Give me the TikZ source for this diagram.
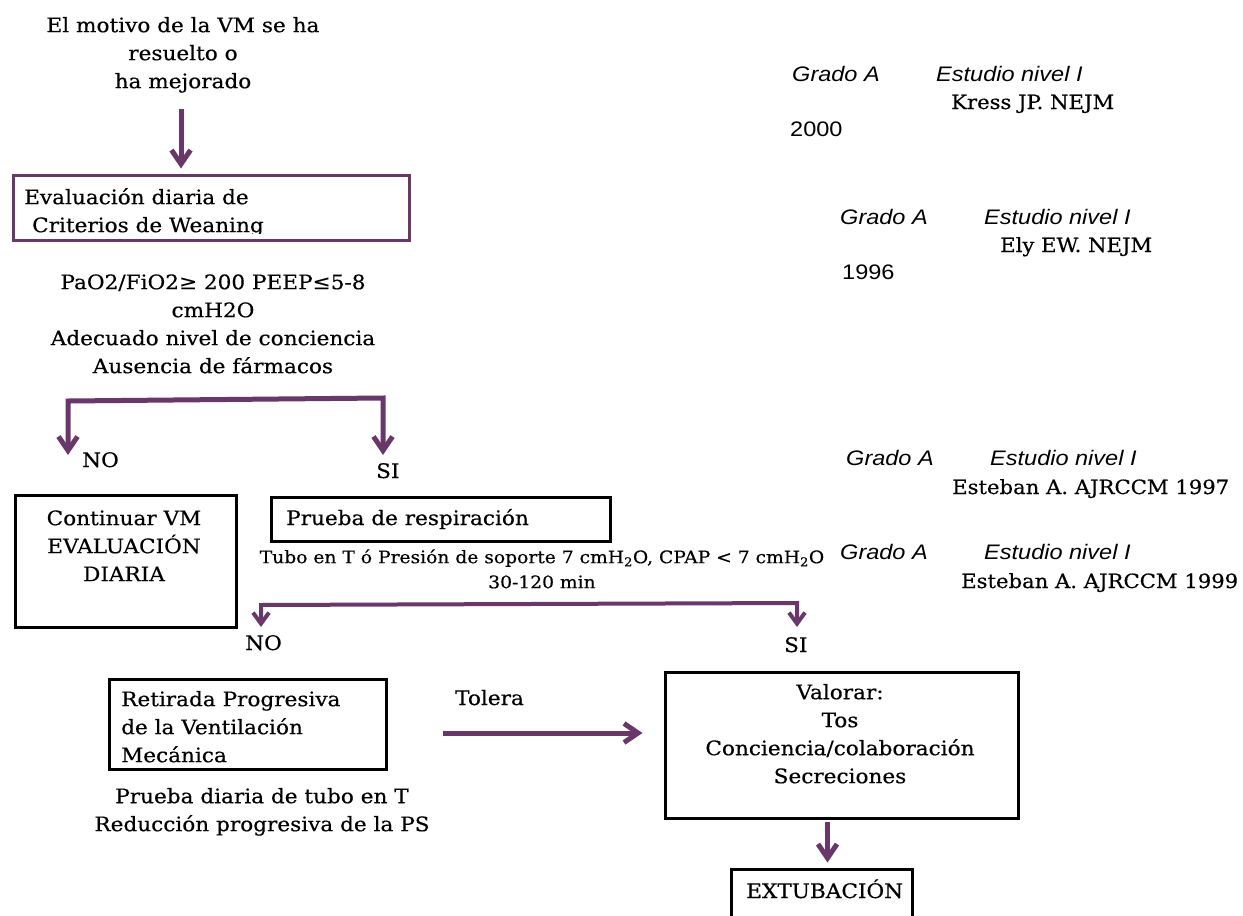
\documentclass[tikz,border=0pt]{standalone}
\usepackage{fontspec}
\setmainfont[FakeStretch=1.08,FakeBold=0.4]{DejaVu Serif}
\newfontfamily\refsans[FakeStretch=1.12]{Liberation Sans}
\usetikzlibrary{arrows.meta}
\definecolor{vm}{RGB}{105,55,105}
\newcommand{\mainsize}{\fontsize{20}{28}\selectfont}
\newcommand{\refserifsize}{\fontsize{19.6}{28}\selectfont}
\newcommand{\smallsize}{\fontsize{17.3}{25}\selectfont}
\newcommand{\refsize}{\fontsize{21}{26}\selectfont}
\newcommand{\firststrut}{\rule{0pt}{19pt}}
\newcommand{\smallstrut}{\rule{0pt}{17pt}}
\tikzset{
  txt/.style={inner sep=0pt, font=\mainsize},
  ctxt/.style={txt, align=center, anchor=north},
  ltxt/.style={txt, align=left, anchor=north west},
  btxt/.style={txt, anchor=base west},
  bx/.style={draw=black, line width=3pt, inner sep=0pt, anchor=north west},
  pbx/.style={bx, draw=vm},
  arr/.style={draw=vm, line width=5pt, -{Straight Barb[length=14pt,width=19pt]}},
  dblarr/.style={draw=vm, line width=5pt, {Straight Barb[length=14pt,width=19pt]}-{Straight Barb[length=14pt,width=19pt]}},
  sdblarr/.style={draw=vm, line width=4pt, {Straight Barb[length=11pt,width=16pt]}-{Straight Barb[length=11pt,width=16pt]}},
  refi/.style={inner sep=0pt, anchor=base west, font=\refsans\itshape\refsize},
  refn/.style={inner sep=0pt, anchor=base west, font=\refsans\refsize},
  refs/.style={inner sep=0pt, anchor=base west, font=\refserifsize},
}
\begin{document}
\begin{tikzpicture}[x=1pt,y=-1pt]
\clip (0,0) rectangle (1243,916);
\fill[white] (0,0) rectangle (1243,916);

% ---- top part
\node[ctxt] (motivo) at (183,13) {\firststrut El motivo de la VM se ha\\resuelto o\\ha mejorado};
\node[pbx, minimum width=396pt, minimum height=65pt] (eval) at (11.5,173.5) {};
\begin{scope}
  \clip (10,172) rectangle (409,233);
  \node[ltxt] (evaltxt) at (24,185) {\firststrut Evaluación diaria de\\\hspace{8pt}Criterios de Weaning};
\end{scope}
\coordinate (a1x) at (181,0);
\draw[arr, shorten <=16pt, shorten >=5pt] (a1x |- motivo.south) -- (a1x |- eval.north);

\node[ctxt] (crit) at (213,270) {\firststrut PaO2/FiO2≥ 200 PEEP≤5-8\\cmH2O\\Adecuado nivel de conciencia\\Ausencia de fármacos};

% ---- branch 1
\coordinate (b1L) at (68,401);
\coordinate (b1R) at (383,398);
\coordinate (t1L) at (68,455);
\coordinate (t1R) at (383,455);
\draw[dblarr] (t1R) -- (b1R) -- (b1L) -- (t1L);
\node[btxt] (no1) at (82,467) {NO};
\node[btxt] (si1) at (376,478) {SI};

% ---- middle boxes
\node[bx, minimum width=221pt, minimum height=132pt] (cont) at (13.5,493.5) {};
\node[ctxt] (conttxt) at (124,506) {\firststrut Continuar VM\\EVALUACIÓN\\DIARIA};
\node[bx, minimum width=339pt, minimum height=44pt] (prueba) at (269.5,495.5) {};
\node[btxt] (pruebatxt) at (286,525) {Prueba de respiración};
\node[ctxt, font=\smallsize] (tubo) at (542,546) {\smallstrut Tubo en T ó Presión de soporte 7 cmH\textsubscript{2}O, CPAP < 7 cmH\textsubscript{2}O\\30-120 min};

% ---- branch 2
\coordinate (b2L) at (261,605);
\coordinate (b2R) at (797,603);
\coordinate (t2L) at (261,627);
\coordinate (t2R) at (797,627);
\draw[sdblarr] (t2R) -- (b2R) -- (b2L) -- (t2L);
\node[btxt] (no2) at (245,650) {NO};
\node[btxt] (si2) at (784,652) {SI};

% ---- lower boxes
\node[bx, minimum width=277pt, minimum height=90pt] (retirada) at (107.5,677.5) {};
\node[ltxt] (retiradatxt) at (121,687) {\firststrut Retirada Progresiva\\de la Ventilación\\Mecánica};
\node[ctxt] (diaria) at (262,784) {\firststrut Prueba diaria de tubo en T\\Reducción progresiva de la PS};
\node[btxt] (tolera) at (455,705) {Tolera};

\node[bx, minimum width=353pt, minimum height=146pt] (valorar) at (663.5,670.5) {};
\node[ctxt] (valorartxt) at (840,680) {\firststrut Valorar:\\Tos\\Conciencia/colaboración\\Secreciones};
\coordinate (tol) at (0,733);
\draw[arr] ([xshift=55pt]retirada.east |- tol) -- ([xshift=-21pt]valorar.west |- tol);

\node[bx, minimum width=181pt, minimum height=70pt] (extub) at (729.5,867.5) {};
\node[btxt] (extubtxt) at (746,898) {EXTUBACIÓN};
\draw[arr] ([shift={(-14,2)}]valorar.south) -- ([shift={(6,-5)}]extub.north);

% ---- references
\node[refi] (g1) at (792,81.5) {Grado A};
\node[refi] (e1) at (936,81.5) {Estudio nivel I};
\node[refs] (r1) at (951,109) {Kress JP. NEJM};
\node[refn] (y1) at (790,136.5) {2000};

\node[refi] (g2) at (840,224.5) {Grado A};
\node[refi] (e2) at (984,224.5) {Estudio nivel I};
\node[refs] (r2) at (1000,252) {Ely EW. NEJM};
\node[refn] (y2) at (842,279.5) {1996};

\node[refi] (g3) at (846,465.5) {Grado A};
\node[refi] (e3) at (990,465.5) {Estudio nivel I};
\node[refs] (r3) at (952,494) {Esteban A. AJRCCM 1997};

\node[refi] (g4) at (840,559.5) {Grado A};
\node[refi] (e4) at (984,559.5) {Estudio nivel I};
\node[refs] (r4) at (961,588) {Esteban A. AJRCCM 1999};
\end{tikzpicture}
\end{document}
